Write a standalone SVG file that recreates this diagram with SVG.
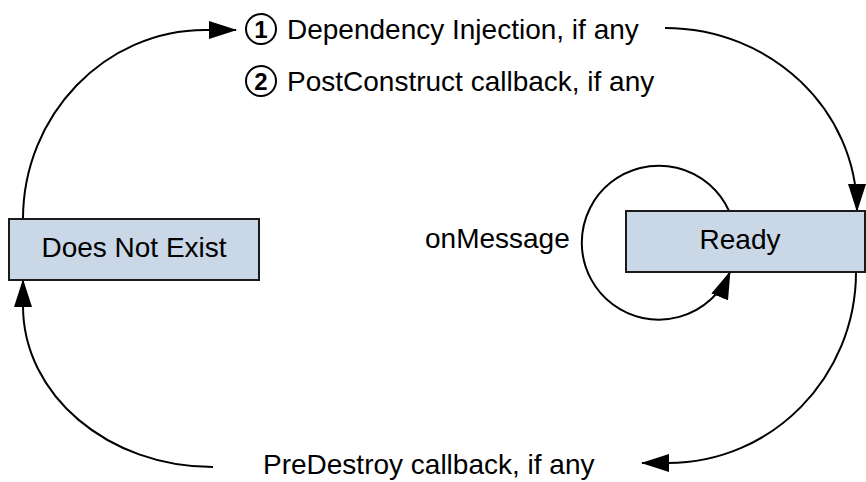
<svg xmlns="http://www.w3.org/2000/svg" width="866" height="482" viewBox="0 0 866 482">
  <style>
    .label { font-family: "Liberation Sans", Arial, sans-serif; font-size: 28px; fill: #000; }
    .state rect { fill: #C9D7E6; stroke: #1a1a1a; stroke-width: 2; }
    .conn path { fill: none; stroke: #000; stroke-width: 2; }
    .num circle { fill: none; stroke: #000; stroke-width: 2; }
    .num text { font-family: "Liberation Sans", Arial, sans-serif; font-size: 24px; font-weight: bold; text-anchor: middle; }
  </style>
  <defs>
    <marker id="arrow" markerUnits="userSpaceOnUse" markerWidth="28" markerHeight="18" refX="27" refY="9" orient="auto">
      <path d="M0,0 L28,9 L0,18 Z" fill="#000"/>
    </marker>
  </defs>

  <rect width="866" height="482" fill="#fff"/>

  <!-- connectors -->
  <g id="connectors" class="conn">
    <!-- Does Not Exist -> Ready (creation) -->
    <path d="M23,219 C23,115 105,30 205,30 L236,30" marker-end="url(#arrow)"/>
    <path d="M665,28 C771,28 857,110 857,211" marker-end="url(#arrow)"/>
    <!-- onMessage self loop -->
    <path d="M729,211 A77,77 0 1 0 730,272" marker-end="url(#arrow)"/>
    <!-- Ready -> Does Not Exist (removal) -->
    <path d="M856,272 C856,377 772,463 668,463 L642,463" marker-end="url(#arrow)"/>
    <path d="M213,467 C108,467 23,395 23,306 L23,280" marker-end="url(#arrow)"/>
  </g>

  <!-- states -->
  <g id="does-not-exist" class="state">
    <rect x="9" y="219" width="250" height="61"/>
    <text class="label" x="134" y="257" text-anchor="middle">Does Not Exist</text>
  </g>
  <g id="ready" class="state">
    <rect x="626" y="211" width="239" height="61"/>
    <text class="label" x="740" y="249" text-anchor="middle">Ready</text>
  </g>

  <!-- transition labels -->
  <g id="step-1">
    <g class="num">
      <circle cx="261" cy="29" r="15"/>
      <text x="261" y="37.5">1</text>
    </g>
    <text class="label" x="287" y="39">Dependency Injection, if any</text>
  </g>
  <g id="step-2">
    <g class="num">
      <circle cx="261" cy="81" r="15"/>
      <text x="261" y="89.5">2</text>
    </g>
    <text class="label" x="287" y="91">PostConstruct callback, if any</text>
  </g>
  <g id="on-message">
    <text class="label" x="425" y="248">onMessage</text>
  </g>
  <g id="pre-destroy">
    <text class="label" x="263" y="474">PreDestroy callback, if any</text>
  </g>
</svg>
